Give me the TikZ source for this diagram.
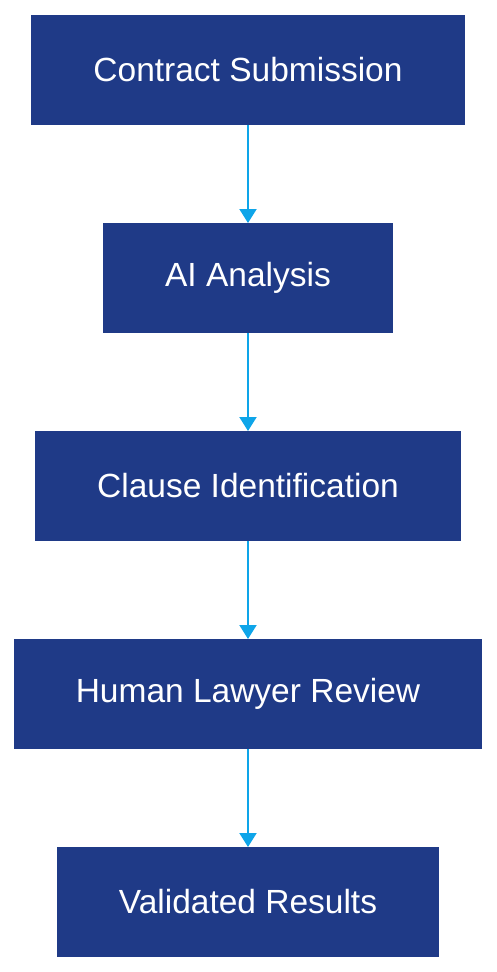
\documentclass[tikz,border=0pt]{standalone}
\usepackage{fontspec}
\setmainfont{Liberation Sans}
\usetikzlibrary{arrows.meta,positioning}
\definecolor{boxblue}{RGB}{31,58,135}
\definecolor{flowcyan}{RGB}{14,165,233}
\tikzset{%
	block/.style    = {fill=boxblue, rectangle, text=white, minimum height=110pt, inner xsep=62pt, outer sep=0pt, font=\fontsize{33.5pt}{40pt}\selectfont},
	arrow/.style    = {flowcyan, line width=2pt, -{Triangle[width=17pt,length=14pt]}},
}
\begin{document}
\begin{tikzpicture}[x=1pt,y=-1pt,node distance=98pt]
		\useasboundingbox (0,0) rectangle (496,972);
		\node [block] (submit) at (248,70) {Contract Submission};
		\node [block] (ai) [below=of submit] {AI Analysis};
		\node [block] (clause) [below=of ai] {Clause Identification};
		\node [block] (review) [below=of clause] {Human Lawyer Review};
		\node [block] (results) [below=of review] {Validated Results};
		
		\draw[arrow] (submit) -- (ai);
		\draw[arrow] (ai) -- (clause);
		\draw[arrow] (clause) -- (review);
		\draw[arrow] (review) -- (results);
		\end{tikzpicture}
\end{document}
